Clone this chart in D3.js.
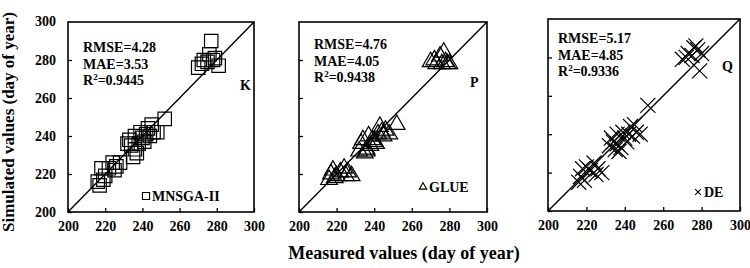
<!DOCTYPE html>
<html>
<head>
<meta charset="utf-8">
<script src="https://cdn.jsdelivr.net/npm/d3@7/dist/d3.min.js"></script>
<style>
  body { margin: 0; background: #fff; }
  svg text { font-family: "Liberation Serif", "Times New Roman", serif; font-weight: bold; fill: #000; }
</style>
</head>
<body>
<div id="chart"></div>
<script>
// data
var ticks = [200, 220, 240, 260, 280, 300];

// MNSGA-II (squares)
var measuredK = [216, 217, 218, 219, 220, 222, 224, 225, 226, 228, 232, 233, 234, 235, 236, 236, 237, 238, 239, 240, 241, 242, 243, 244, 245, 246, 248, 252, 270, 272, 273, 275, 276, 277, 278, 279, 281];
var simulatedK = [216, 214, 223, 217, 219, 223, 226, 222, 224, 226, 236, 238, 235, 229, 233, 240, 231, 236, 242, 239, 237, 241, 244, 240, 246, 242, 242, 249, 276, 278, 280, 279, 283, 290, 280, 281, 277];

// GLUE (triangles)
var measuredP = [216, 217, 218, 219, 220, 222, 224, 225, 226, 228, 232, 233, 234, 235, 236, 236, 237, 238, 239, 240, 241, 242, 243, 244, 245, 246, 248, 252, 270, 272, 273, 275, 276, 277, 278, 279, 280];
var simulatedP = [217, 220, 222, 218, 219, 221, 223, 219, 221, 219, 232, 236, 238, 231, 233, 232, 240, 235, 238, 237, 236, 241, 245, 242, 240, 243, 241, 246, 279, 280, 278, 282, 278, 284, 279, 278, 278];

// DE (crosses)
var measuredQ = [216, 217, 218, 219, 220, 222, 224, 225, 226, 228, 232, 233, 234, 235, 236, 236, 237, 238, 239, 240, 241, 242, 243, 244, 245, 246, 248, 252, 270, 272, 273, 275, 276, 277, 278, 279, 280];
var simulatedQ = [215, 218, 222, 216, 223, 221, 225, 219, 222, 220, 234, 238, 236, 232, 235, 240, 231, 233, 241, 238, 236, 240, 244, 239, 245, 241, 240, 255, 279, 280, 282, 281, 285, 286, 284, 273, 282];

var panels = [
  { name: "K", legend: "MNSGA-II", stats: ["RMSE=4.28", "MAE=3.53", "0.9445"], xs: measuredK, ys: simulatedK,
    symbol: d3.symbolSquare, size: 180, legSize: 50,
    left: 68, top: 22, w: 186, h: 190, statX: 15, statY: 30, letter: [172, 63], leg: [78, 174], yLabels: true },
  { name: "P", legend: "GLUE", stats: ["RMSE=4.76", "MAE=4.05", "0.9438"], xs: measuredP, ys: simulatedP,
    symbol: d3.symbolTriangle, size: 120, legSize: 24,
    left: 299, top: 22, w: 188, h: 190, statX: 15, statY: 27, letter: [171, 60], leg: [124, 165], yLabels: false },
  { name: "Q", legend: "DE", stats: ["RMSE=5.17", "MAE=4.85", "0.9336"], xs: measuredQ, ys: simulatedQ,
    symbol: d3.symbolTimes, size: 150, legSize: 24,
    left: 548, top: 19, w: 192, h: 192, statX: 10, statY: 24, letter: [174, 47], leg: [150, 173], yLabels: false }
];

var svg = d3.select("#chart").append("svg")
    .attr("width", 750)
    .attr("height", 268);

panels.forEach(function (p) {
    var g = svg.append("g").attr("transform", "translate(" + p.left + "," + p.top + ")");

    var x = d3.scaleLinear().domain([200, 300]).range([0, p.w]);
    var y = d3.scaleLinear().domain([200, 300]).range([p.h, 0]);

    // axes, ticks point inward
    g.append("g")
        .attr("transform", "translate(0," + p.h + ")")
        .call(d3.axisBottom(x).tickValues(ticks).tickSizeInner(-4).tickSizeOuter(0).tickPadding(9))
        .call(function (a) {
            a.select(".domain").remove();
            a.selectAll("line").attr("stroke-width", 1.3);
            a.selectAll("text").style("font-size", "14px").attr("font-family", null);
        });

    g.append("g")
        .call(d3.axisLeft(y).tickValues(ticks.slice(0, 5)).tickSizeInner(-4).tickSizeOuter(0).tickPadding(12)
            .tickFormat(p.yLabels ? d3.format("d") : ""))
        .call(function (a) {
            a.select(".domain").remove();
            a.selectAll("line").attr("stroke-width", 1.3);
            a.selectAll("text").style("font-size", "14px").attr("font-family", null);
        });
    if (p.yLabels) {
        g.append("text").attr("x", -12).attr("y", y(300)).attr("dy", "0.32em")
            .attr("text-anchor", "end").style("font-size", "14px").text("300");
    }

    // frame
    g.append("rect")
        .attr("width", p.w).attr("height", p.h)
        .attr("fill", "none").attr("stroke", "#000").attr("stroke-width", 1.6);

    // 1:1 line
    g.append("line")
        .attr("x1", x(200)).attr("y1", y(200))
        .attr("x2", x(300)).attr("y2", y(300))
        .attr("stroke", "#000").attr("stroke-width", 1.4);

    // points
    var sym = d3.symbol().type(p.symbol).size(p.size);
    g.selectAll(".pt")
        .data(p.xs.map(function (d, i) { return [d, p.ys[i]]; }))
        .enter()
        .append("path")
        .attr("class", "pt")
        .attr("d", sym)
        .attr("transform", function (d) { return "translate(" + x(d[0]) + "," + y(d[1]) + ")"; })
        .attr("fill", "none")
        .attr("stroke", "#000")
        .attr("stroke-width", 1.2);

    // statistics
    var st = g.append("text").attr("x", p.statX).attr("y", p.statY).style("font-size", "14px");
    st.append("tspan").attr("x", p.statX).text(p.stats[0]);
    st.append("tspan").attr("x", p.statX).attr("dy", 16.5).text(p.stats[1]);
    st.append("tspan").attr("x", p.statX).attr("dy", 16.5).text("R");
    st.append("tspan").attr("dy", -5).style("font-size", "9px").text("2");
    st.append("tspan").attr("dy", 5).text("=" + p.stats[2]);

    g.append("text").attr("x", p.letter[0]).attr("y", p.letter[1] + 5)
        .style("font-size", "14px").text(p.name);

    // legend
    g.append("path")
        .attr("d", d3.symbol().type(p.symbol).size(p.legSize))
        .attr("transform", "translate(" + p.leg[0] + "," + p.leg[1] + ")")
        .attr("fill", "none").attr("stroke", "#000").attr("stroke-width", 1.1);
    g.append("text").attr("x", p.leg[0] + 6).attr("y", p.leg[1] + 5)
        .style("font-size", "14px").text(p.legend);
});

// axis titles
svg.append("text")
    .attr("transform", "translate(14,122) rotate(-90)")
    .attr("text-anchor", "middle")
    .style("font-size", "17px")
    .text("Simulated values (day of year)");

svg.append("text")
    .attr("x", 404).attr("y", 259)
    .attr("text-anchor", "middle")
    .style("font-size", "18px")
    .text("Measured values (day of year)");
</script>
</body>
</html>
